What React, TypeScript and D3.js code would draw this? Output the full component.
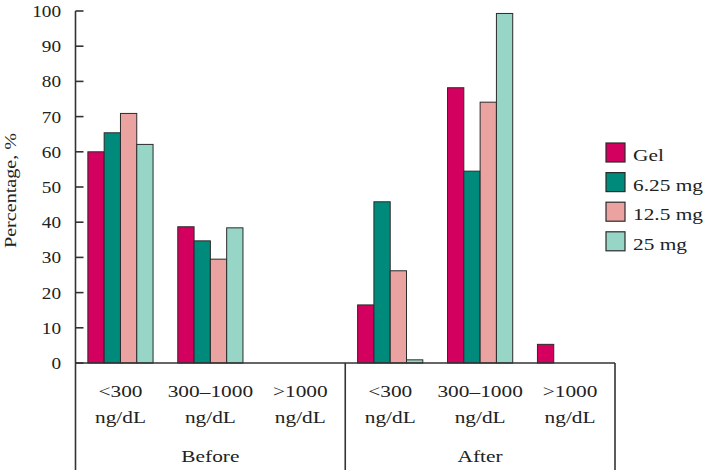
import React from "react";
import * as d3 from "d3";

const periods = ["Before", "After"];
const catLine1 = ["<300", "300–1000", ">1000"];
const catLine2 = ["ng/dL", "ng/dL", "ng/dL"];
const seriesNames = ["Gel", "6.25 mg", "12.5 mg", "25 mg"];
// values per group: Before <300, Before 300–1000, Before >1000, After <300, After 300–1000, After >1000
const gel = [60, 38.7, 0, 16.5, 78.2, 5.3];
const mg625 = [65.4, 34.7, 0, 45.8, 54.5, 0];
const mg125 = [70.9, 29.5, 0, 26.2, 74.1, 0];
const mg25 = [62.1, 38.4, 0, 0.9, 99.3, 0];
const yTicks = [0, 10, 20, 30, 40, 50, 60, 70, 80, 90, 100];

const seriesValues = [gel, mg625, mg125, mg25];
const colors = ["#d4005f", "#008a7c", "#eba3a2", "#97d5c6"];

const W = 704;
const H = 470;
const axisX = 75.5;
const rightX = 615;
const FONT = "'Liberation Serif', 'Times New Roman', serif";
const FS = 17.5;
const SX = 1.22;

export default function App() {
  const y = d3.scaleLinear().domain([0, 100]).range([363, 11]);
  const outer = d3.scaleBand<string>().domain(periods).range([axisX, rightX]).padding(0);
  const inner = d3
    .scaleBand<string>()
    .domain(catLine1)
    .range([0, outer.bandwidth()])
    .paddingInner(0.275)
    .paddingOuter(0.1375);
  const bar = d3.scaleBand<string>().domain(seriesNames).range([0, inner.bandwidth()]).padding(0);

  const y0 = y(0);

  const HText = (props: { x: number; y: number; anchor: string; children: React.ReactNode; s?: number }) => (
    <g transform={`translate(${props.x},${props.y}) scale(${props.s ?? SX},1)`}>
      <text x={0} y={0} textAnchor={props.anchor as any} fontFamily={FONT} fontSize={FS} fill="#222">
        {props.children}
      </text>
    </g>
  );

  return (
    <svg
      width={W}
      height={H}
      style={{ position: "absolute", left: 0, top: 0, background: "#fff" }}
    >
      <rect x={0} y={0} width={W} height={H} fill="#fff" />
      {/* bars */}
      {periods.map((p, pi) =>
        catLine1.map((c, ci) => {
          const gi = pi * catLine1.length + ci;
          const gx = (outer(p) as number) + (inner(c) as number);
          return seriesNames.map((s, si) => {
            const v = seriesValues[si][gi];
            if (!v) return null;
            return (
              <rect
                key={`${p}-${c}-${s}`}
                x={gx + (bar(s) as number)}
                y={y(v)}
                width={bar.bandwidth()}
                height={y0 - y(v)}
                fill={colors[si]}
                stroke="#2b2b2b"
                strokeWidth={1}
              />
            );
          });
        })
      )}
      {/* y axis */}
      <line x1={axisX} x2={axisX} y1={y(100)} y2={H} stroke="#333" strokeWidth={1.6} />
      {yTicks.map((t) => (
        <g key={t}>
          <line x1={axisX} x2={axisX + 8} y1={y(t)} y2={y(t)} stroke="#333" strokeWidth={1.6} />
          <HText x={61} y={y(t) + 6} anchor="end" s={1.1}>
            {t}
          </HText>
        </g>
      ))}
      {/* baseline and separators */}
      <line x1={axisX} x2={rightX} y1={y0} y2={y0} stroke="#333" strokeWidth={1.6} />
      {periods.map((p) => (
        <line
          key={p}
          x1={(outer(p) as number) + outer.bandwidth()}
          x2={(outer(p) as number) + outer.bandwidth()}
          y1={y0}
          y2={H}
          stroke="#333"
          strokeWidth={1.6}
        />
      ))}
      {/* category labels */}
      {periods.map((p) =>
        catLine1.map((c, ci) => {
          const cx = (outer(p) as number) + (inner(c) as number) + inner.bandwidth() / 2;
          return (
            <g key={`${p}-${c}-lbl`}>
              <HText x={cx} y={397} anchor="middle">
                {c}
              </HText>
              <HText x={cx} y={423} anchor="middle">
                {catLine2[ci]}
              </HText>
            </g>
          );
        })
      )}
      {periods.map((p) => (
        <HText key={`${p}-plbl`} x={(outer(p) as number) + outer.bandwidth() / 2} y={462} anchor="middle">
          {p}
        </HText>
      ))}
      {/* y label */}
      <g transform={`translate(16,190.5) rotate(-90) scale(1.15,1)`}>
        <text x={0} y={0} textAnchor="middle" fontFamily={FONT} fontSize={FS} fill="#222">
          Percentage, %
        </text>
      </g>
      {/* legend */}
      {seriesNames.map((s, i) => {
        const top = 143 + i * 29.6;
        return (
          <g key={s}>
            <rect x={606} y={top} width={19} height={19} fill={colors[i]} stroke="#2b2b2b" strokeWidth={1.2} />
            <HText x={633} y={top + 18} anchor="start">
              {s}
            </HText>
          </g>
        );
      })}
    </svg>
  );
}
